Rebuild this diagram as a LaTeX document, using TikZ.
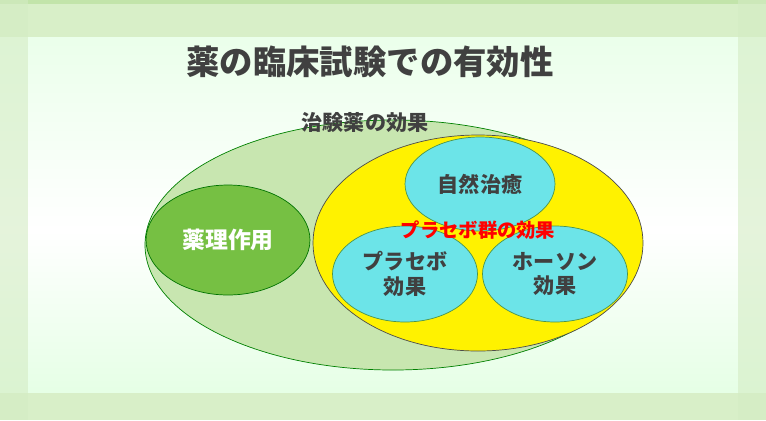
\documentclass[tikz,border=0pt]{standalone}
\usepackage{fontspec}
\setmainfont{Noto Sans CJK JP}
\usetikzlibrary{positioning,shapes.geometric}
\definecolor{bandgreen}{HTML}{D8EFC8}
\definecolor{edgegreen}{HTML}{C2E4AA}
\definecolor{sidegreen}{HTML}{D4ECC4}
\definecolor{outerfill}{HTML}{C8E6B0}
\definecolor{drugfill}{HTML}{76C043}
\definecolor{cyanfill}{HTML}{6CE4E8}
\definecolor{textgray}{HTML}{404040}
\tikzset{%
  % Specifications for style of nodes:
      base/.style = {ellipse, draw, inner sep=0pt, font=\bfseries},
  effect/.style = {draw=green!40!black!70, fill=cyanfill, text=textgray,
                   font=\fontsize{12}{14}\selectfont\bfseries, align=center},
}
\begin{document}
\begin{tikzpicture}[x=0.02cm, y=-0.02cm]
\useasboundingbox (0,0) rectangle (766,420);
% background
\shade[top color=green!8, bottom color=white] (0,37) rectangle (766,230);
\shade[top color=white, bottom color=green!10] (0,230) rectangle (766,393);
\fill[bandgreen] (0,0) rectangle (766,37);
\fill[edgegreen] (0,0) rectangle (766,4);
\fill[bandgreen] (0,393) rectangle (766,420);
\fill[sidegreen, opacity=0.6] (0,0) rectangle (28,420);
\fill[sidegreen, opacity=0.6] (738,0) rectangle (766,420);
\node (title) at (370,62) {\fontsize{19}{22}\selectfont\bfseries\color{textgray}薬の臨床試験での有効性};
% ellipses
\fill[outerfill, draw=green!50!black] (393,245) ellipse [x radius=248, y radius=125];
\node (outerlabel) at (365,122) {\fontsize{12}{14}\selectfont\bfseries\color{textgray}治験薬の効果};
\fill[yellow, draw=black!70] (478,243) ellipse [x radius=165, y radius=108];
\node (drug) [base, draw=green!45!black, fill=drugfill, text=white,
  minimum width=3.28cm, minimum height=2.2cm,
  font=\fontsize{13}{15}\selectfont\bfseries] at (228,240) {薬理作用};
\node (natural) [base, effect, minimum width=3cm, minimum height=1.88cm] at (480,184) {自然治癒};
\node (placebo) [base, effect, minimum width=2.9cm, minimum height=1.92cm] at (405,274) {プラセボ\\効果};
\node (hawthorne) [base, effect, minimum width=2.9cm, minimum height=1.92cm] at (555,274) {ホーソン\\効果};
\node (group) at (478,230) {\fontsize{11}{13}\selectfont\bfseries\color{red}プラセボ群の効果};
\end{tikzpicture}
\end{document}
